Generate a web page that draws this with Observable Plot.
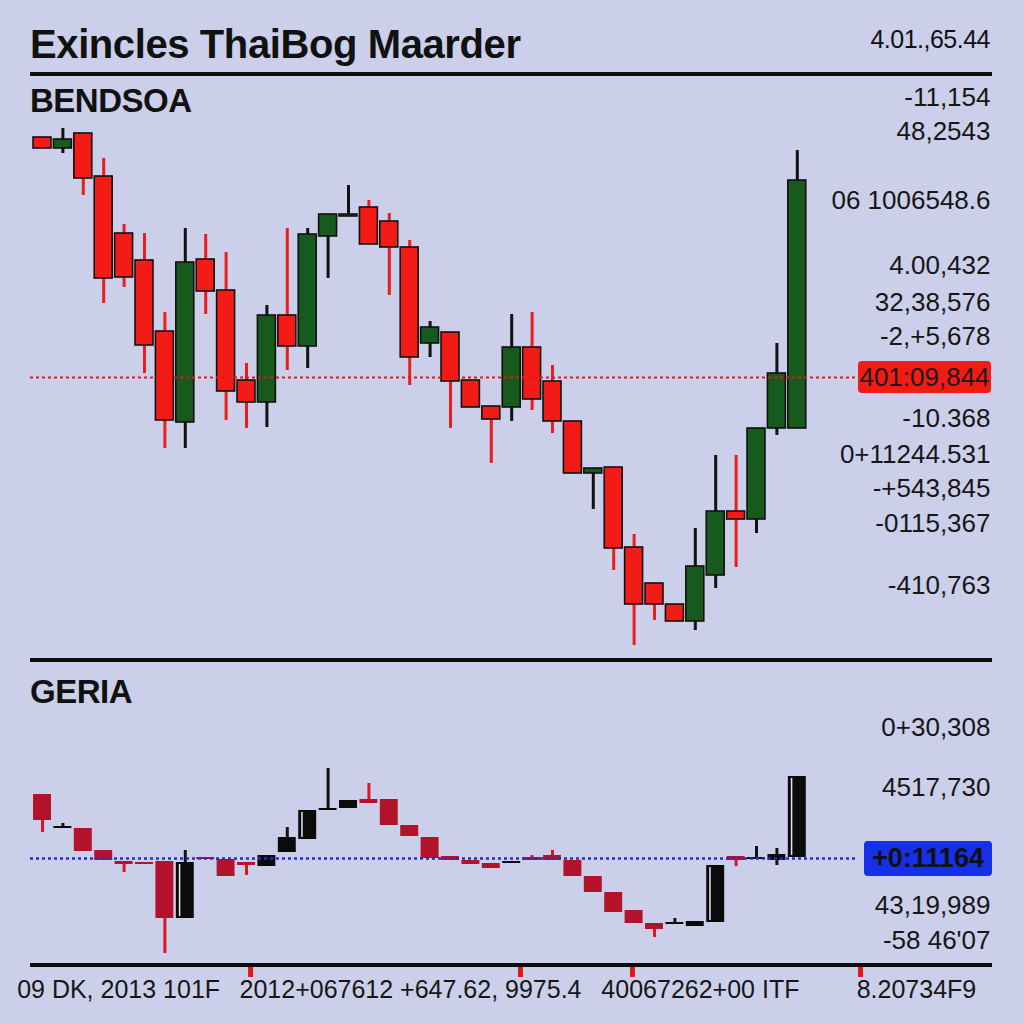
<!DOCTYPE html>
<html>
<head>
<meta charset="utf-8">
<script src="https://cdn.jsdelivr.net/npm/d3@7"></script>
<script src="https://cdn.jsdelivr.net/npm/@observablehq/plot@0.6"></script>
<style>
html, body { margin: 0; padding: 0; background: #cbcfe9; }
#root { position: relative; width: 1024px; height: 1024px; overflow: hidden; background: #cbcfe9;
  font-family: "Liberation Sans", Arial, sans-serif; color: #111; }
.abs { position: absolute; white-space: nowrap; line-height: 1; }
.rule { position: absolute; background: #0d0d0d; }
.box { position: absolute; display: flex; align-items: center; justify-content: center; border-radius: 4px; white-space: nowrap; line-height: 1; }
</style>
</head>
<body>
<div id="root"></div>
<script>
// ---------- text ----------
const titleText = "Exincles ThaiBog Maarder";
const titleRight = "4.01.,65.44";
const upperName = "BENDSOA";
const lowerName = "GERIA";

// ---------- upper panel (price candles) ----------
const upperOpen  = [563,552,567,524,467,440,369,278,441,410,320,298,385,354,464,484,493,479,453,357,368,320,294,293,353,319,279,227,233,153,117,96,79,125,189,181,272,272];
const upperClose = [552,561,522,422,423,355,280,438,409,309,298,385,354,466,486,486,456,453,343,373,319,293,281,353,301,279,227,232,152,96,96,79,134,189,181,272,327,520];
const upperHigh  = [563,572,567,542,476,467,388,472,466,448,337,395,472,472,486,515,500,487,460,379,368,320,294,386,388,335,279,232,233,166,117,96,172,245,245,272,357,550];
const upperLow   = [552,547,505,397,413,327,252,252,386,280,272,273,330,332,422,484,456,405,315,343,272,293,237,279,290,267,227,191,130,55,80,79,70,112,133,167,265,272];

const upperTickValues = [603, 569, 500, 435, 398, 364, 282, 246, 212, 177, 115];
const upperTickLabels = ["-11,154", "48,2543", "06 1006548.6", "4.00,432", "32,38,576", "-2,+5,678", "-10.368", "0+11244.531", "-+543,845", "-0115,367", "-410,763"];
const upperLastValue = 323;
const upperLastLabel = "401:09,844";

// ---------- lower panel ----------
const lowerOpen  = [206,172,172,150,139,138,139,82,143,141,138,134,148,161,190,192,201,201,175,163,144,140,137,137,143,145,140,124,108,90,77,76,74,78,144,141,140,143];
const lowerClose = [180,174,149,140,136,136,82,138,141,124,135,145,163,190,192,200,197,175,164,142,140,136,132,139,140,140,124,108,88,77,71,78,79,135,140,143,146,224];
const lowerHigh  = [206,177,172,150,139,138,139,150,143,141,138,145,173,190,232,200,217,201,175,163,144,140,137,139,145,150,140,124,108,90,77,82,79,135,144,154,152,224];
const lowerLow   = [168,172,149,140,128,136,47,82,141,124,125,134,148,161,190,192,197,175,164,142,140,136,132,137,140,140,124,108,88,77,63,76,74,78,134,141,135,143];

const lowerTickValues = [273, 213, 95, 60];
const lowerTickLabels = ["0+30,308", "4517,730", "43,19,989", "-58 46'07"];
const lowerLastValue = 142;
const lowerLastLabel = "+0:11164";

// ---------- x axis ----------
const xTickMarks = [10.2, 23.43, 28.92, 40.1];
const xLabelPos = [3.73, 18.04, 32.25, 42.84];
const xLabels = ["09 DK, 2013 101F", "2012+067612 +647.62, 9975.4", "40067262+00 ITF", "8.20734F9"];

// ---------- build ----------
const FONT = '"Liberation Sans", Arial, sans-serif';
const root = document.getElementById("root");
function add(html, css, cls = "abs") {
  const d = document.createElement("div");
  d.className = cls;
  if (html != null) d.textContent = html;
  Object.assign(d.style, css);
  root.appendChild(d);
  return d;
}

const candles = (o, c, h, l) => o.map((v, i) => ({i, open: v, close: c[i], high: h[i], low: l[i], up: c[i] >= v}));
const upper = candles(upperOpen, upperClose, upperHigh, upperLow);
const lower = candles(lowerOpen, lowerClose, lowerHigh, lowerLow);
const upperTicks = upperTickValues.map((v, k) => ({v, t: upperTickLabels[k]}));
const lowerTicks = lowerTickValues.map((v, k) => ({v, t: lowerTickLabels[k]}));
const xLab = xLabelPos.map((p, k) => ({p, t: xLabels[k]}));
const tallUp = lower.filter(d => d.up && d.close - d.open > 20);

const xScale = {type: "linear", domain: [-0.588, 40], axis: null};
const half = 0.44;

// header
add(titleText, {left: "30px", top: "24px", fontSize: "40px", fontWeight: "bold", letterSpacing: "-0.4px"});
add(titleRight, {right: "34px", top: "27px", fontSize: "25px", letterSpacing: "-0.5px"});
add(null, {left: "30px", top: "72px", width: "962px", height: "4px"}, "rule");
add(upperName, {left: "30px", top: "84px", fontSize: "33px", fontWeight: "bold", letterSpacing: "-0.5px"});

// upper plot
const UPPER_TOP = 80;
const upperPlot = Plot.plot({
  width: 1024, height: 575,
  marginLeft: 30, marginRight: 166, marginTop: 0, marginBottom: 0,
  x: xScale,
  y: {domain: [45, 620], axis: null},
  style: {background: "transparent", fontFamily: FONT, overflow: "visible"},
  marks: [
    Plot.ruleX(upper, {x: "i", y1: "low", y2: "high", stroke: d => d.up ? "#111111" : "#ee1c18", strokeWidth: 3}),
    Plot.rect(upper, {x1: d => d.i - half, x2: d => d.i + half, y1: "open", y2: "close",
      fill: d => d.up ? "#165a1d" : "#f21b16", stroke: "#111111", strokeWidth: 1.6}),
    Plot.ruleY([upperLastValue], {stroke: "#e8161a", strokeWidth: 2.2, strokeDasharray: "3,3"}),
    Plot.text(upperTicks, {y: "v", text: "t", frameAnchor: "right", textAnchor: "end", dx: 132, fontSize: 26, fill: "#161616"})
  ]
});
upperPlot.style.position = "absolute";
upperPlot.style.left = "0px";
upperPlot.style.top = UPPER_TOP + "px";
root.appendChild(upperPlot);

const yU = upperPlot.scale("y");
add(upperLastLabel, {left: "858px", width: "133px", height: "32px",
  top: (UPPER_TOP + yU.apply(upperLastValue) - 16) + "px", background: "#f21b16", fontSize: "26px", color: "#1a1a1a"}, "box");

// separator
add(null, {left: "30px", top: "658px", width: "962px", height: "4px"}, "rule");
add(lowerName, {left: "30px", top: "675px", fontSize: "33px", fontWeight: "bold", letterSpacing: "-0.5px"});

// lower plot
const LOWER_TOP = 700;
const lowerPlot = Plot.plot({
  width: 1024, height: 324,
  marginLeft: 30, marginRight: 166, marginTop: 0, marginBottom: 59,
  x: xScale,
  y: {domain: [35, 300], axis: null},
  style: {background: "transparent", fontFamily: FONT, overflow: "visible"},
  marks: [
    Plot.ruleX(lower, {x: "i", y1: "low", y2: "high", stroke: d => d.up ? "#111111" : "#e0141c", strokeWidth: 3}),
    Plot.rect(lower, {x1: d => d.i - half, x2: d => d.i + half, y1: "open", y2: "close",
      fill: d => d.up ? "#0b0b0b" : "#b3132a"}),
    Plot.ruleX(tallUp, {x: d => d.i - 0.28, y1: d => d.open + 2, y2: d => d.close - 2, stroke: "#e6e8f2", strokeWidth: 1.5}),
    Plot.ruleY([lowerLastValue], {stroke: "#2030d0", strokeWidth: 2.5, strokeDasharray: "3,3"}),
    Plot.text(lowerTicks, {y: "v", text: "t", frameAnchor: "right", textAnchor: "end", dx: 132, fontSize: 26, fill: "#161616"}),
    Plot.axisX(xTickMarks, {tickSize: 12, stroke: "#e8161a", strokeWidth: 5, tickFormat: () => ""}),
    Plot.text(xLab, {x: "p", text: "t", frameAnchor: "bottom", dy: 32, fontSize: 25, fill: "#161616"})
  ]
});
lowerPlot.style.position = "absolute";
lowerPlot.style.left = "0px";
lowerPlot.style.top = LOWER_TOP + "px";
root.appendChild(lowerPlot);

const yL = lowerPlot.scale("y");
add(lowerLastLabel, {left: "864px", width: "128px", height: "35px",
  top: (LOWER_TOP + yL.apply(lowerLastValue) - 17.5) + "px", background: "#1530e6", fontSize: "27px", fontWeight: "bold", color: "#111"}, "box");

// bottom rule
add(null, {left: "30px", top: "963px", width: "962px", height: "4px"}, "rule");
</script>
</body>
</html>
